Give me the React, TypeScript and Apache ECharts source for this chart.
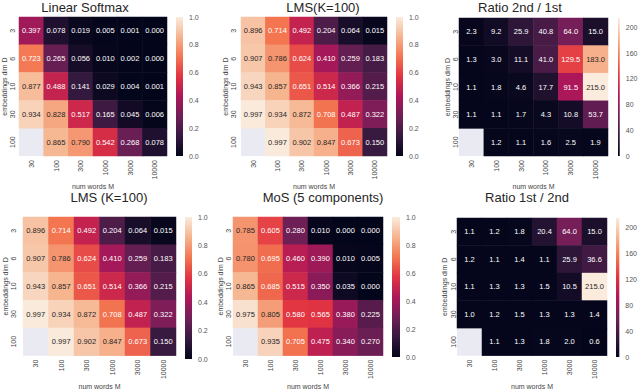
import React, { useEffect, useRef } from "react";
import * as echarts from "echarts";

const M_LABELS = ["30", "100", "300", "1000", "3000", "10000"];
const D_LABELS = ["3", "6", "10", "30", "100"];

const linearSoftmax = [
  [0.397, 0.078, 0.019, 0.005, 0.001, 0.0],
  [0.723, 0.265, 0.056, 0.01, 0.002, 0.0],
  [0.877, 0.488, 0.141, 0.029, 0.004, 0.001],
  [0.934, 0.828, 0.517, 0.165, 0.045, 0.006],
  [null, 0.865, 0.79, 0.542, 0.268, 0.078],
];
const lmsK100 = [
  [0.896, 0.714, 0.492, 0.204, 0.064, 0.015],
  [0.907, 0.786, 0.624, 0.41, 0.259, 0.183],
  [0.943, 0.857, 0.651, 0.514, 0.366, 0.215],
  [0.997, 0.934, 0.872, 0.708, 0.487, 0.322],
  [null, 0.997, 0.902, 0.847, 0.673, 0.15],
];
const ratio2nd1st = [
  [2.3, 9.2, 25.9, 40.8, 64.0, 15.0],
  [1.3, 3.0, 11.1, 41.0, 129.5, 183.0],
  [1.1, 1.8, 4.6, 17.7, 91.5, 215.0],
  [1.1, 1.1, 1.7, 4.3, 10.8, 53.7],
  [null, 1.2, 1.1, 1.6, 2.5, 1.9],
];
const mos5 = [
  [0.785, 0.605, 0.28, 0.01, 0.0, 0.0],
  [0.78, 0.695, 0.46, 0.39, 0.01, 0.005],
  [0.865, 0.685, 0.515, 0.35, 0.035, 0.0],
  [0.975, 0.805, 0.58, 0.565, 0.38, 0.225],
  [null, 0.935, 0.705, 0.475, 0.34, 0.27],
];
const ratio1st2nd = [
  [1.1, 1.2, 1.8, 20.4, 64.0, 15.0],
  [1.2, 1.1, 1.4, 1.1, 25.9, 36.6],
  [1.1, 1.3, 1.3, 1.5, 10.5, 215.0],
  [1.0, 1.2, 1.5, 1.3, 1.3, 1.4],
  [null, 1.1, 1.3, 1.8, 2.0, 0.6],
];

const PROB_TICKS = [0, 0.2, 0.4, 0.6, 0.8, 1.0];
const RATIO_TICKS = [0, 40, 80, 120, 160, 200];

const ROCKET = ["#03051a", "#35193e", "#701f57", "#ad1759", "#e13342", "#f37651", "#f6b48f", "#faebdd"];
const FONT = "Liberation Sans";

type Panel = {
  title: string;
  data: (number | null)[][];
  vmax: number;
  ticks: number[];
  decimals: number;
  tickDec: number;
  grid: [number, number, number, number];
  cb: [number, number, number, number];
  tickX: number;
  labelX: number;
  titlePos: [number, number];
  xnameY: number;
};

const panels: Panel[] = [
  { title: "Linear Softmax", data: linearSoftmax, vmax: 1, ticks: PROB_TICKS, decimals: 3, tickDec: 1,
    grid: [19, 17, 148, 139], cb: [176, 17, 7, 139], tickX: 12, labelX: 8, titlePos: [85, 7], xnameY: 183 },
  { title: "LMS(K=100)", data: lmsK100, vmax: 1, ticks: PROB_TICKS, decimals: 3, tickDec: 1,
    grid: [241, 17, 146, 139], cb: [396, 17, 7, 139], tickX: 233, labelX: 224, titlePos: [323, 7], xnameY: 183 },
  { title: "Ratio 2nd / 1st", data: ratio2nd1st, vmax: 215, ticks: RATIO_TICKS, decimals: 1, tickDec: 0,
    grid: [459, 18, 149, 138], cb: [618, 18, 7, 138], tickX: 455, labelX: 445, titlePos: [520, 7], xnameY: 183 },
  { title: "LMS (K=100)", data: lmsK100, vmax: 1, ticks: PROB_TICKS, decimals: 3, tickDec: 1,
    grid: [23, 217, 153, 142], cb: [185, 217, 7, 142], tickX: 13, labelX: 6, titlePos: [109, 197], xnameY: 387 },
  { title: "MoS (5 components)", data: mos5, vmax: 1, ticks: PROB_TICKS, decimals: 3, tickDec: 1,
    grid: [233, 217, 150, 140], cb: [392, 217, 8, 140], tickX: 228, labelX: 217, titlePos: [323, 197], xnameY: 387 },
  { title: "Ratio 1st / 2nd", data: ratio1st2nd, vmax: 215, ticks: RATIO_TICKS, decimals: 1, tickDec: 0,
    grid: [457, 218, 150, 139], cb: [616, 218, 7, 139], tickX: 453, labelX: 440, titlePos: [527, 197], xnameY: 387 },
];

function hexToRgb(h: string) {
  return [parseInt(h.slice(1, 3), 16), parseInt(h.slice(3, 5), 16), parseInt(h.slice(5, 7), 16)];
}
function rocketAt(t: number) {
  const c = Math.max(0, Math.min(1, t)) * (ROCKET.length - 1);
  const i = Math.min(ROCKET.length - 2, Math.floor(c));
  const f = c - i;
  const a = hexToRgb(ROCKET[i]);
  const b = hexToRgb(ROCKET[i + 1]);
  return a.map((v, k) => v + (b[k] - v) * f);
}
function textColorFor(t: number) {
  const lin = rocketAt(t).map((v) => {
    const s = v / 255;
    return s <= 0.03928 ? s / 12.92 : Math.pow((s + 0.055) / 1.055, 2.4);
  });
  const lum = 0.2126 * lin[0] + 0.7152 * lin[1] + 0.0722 * lin[2];
  return lum > 0.408 ? "#262626" : "#ffffff";
}

function buildOption() {
  const grid: any[] = [];
  const xAxis: any[] = [];
  const yAxis: any[] = [];
  const series: any[] = [];
  const visualMap: any[] = [];
  const graphic: any[] = [];

  panels.forEach((p, i) => {
    const [gl, gt, gw, gh] = p.grid;
    grid.push({ left: gl, top: gt, width: gw, height: gh, show: true, backgroundColor: "#EAEAF2", borderWidth: 0 });
    xAxis.push({
      type: "category", gridIndex: 2 * i, data: M_LABELS,
      axisLine: { show: false }, axisTick: { show: false }, splitLine: { show: false },
      axisLabel: { rotate: 90, fontSize: 7, color: "#444", fontFamily: FONT, margin: 4 },
      name: "num words M", nameLocation: "middle", nameGap: p.xnameY - (gt + gh) - 8,
      nameTextStyle: { fontSize: 7, color: "#444", fontFamily: FONT },
    });
    yAxis.push({
      type: "category", gridIndex: 2 * i, data: D_LABELS, inverse: true,
      axisLine: { show: false }, axisTick: { show: false }, splitLine: { show: false },
      axisLabel: { rotate: 90, fontSize: 7, color: "#444", fontFamily: FONT, margin: Math.max(0, gl - p.tickX - 4) },
      name: "embeddings dim D", nameLocation: "middle", nameRotate: 90, nameGap: Math.max(2, gl - p.labelX - 7.5),
      nameTextStyle: { fontSize: 7, color: "#444", fontFamily: FONT },
    });
    const data: any[] = [];
    p.data.forEach((row, r) => {
      row.forEach((v, c) => {
        if (v === null) return;
        data.push({ value: [c, r, v], label: { color: textColorFor(v / p.vmax) } });
      });
    });
    series.push({
      type: "heatmap", xAxisIndex: 2 * i, yAxisIndex: 2 * i, data,
      label: {
        show: true, fontSize: 7.5, fontFamily: FONT,
        formatter: (pr: any) => Number(pr.value[2]).toFixed(p.decimals),
      },
      itemStyle: { borderWidth: 0 },
      emphasis: { disabled: true },
    });
    visualMap.push({
      type: "continuous", show: false, min: 0, max: p.vmax, dimension: 2,
      seriesIndex: 2 * i, inRange: { color: ROCKET },
    });

    const [cl, ct, cw, ch] = p.cb;
    const step = p.ticks[1] - p.ticks[0];
    grid.push({ left: cl, top: ct, width: cw, height: ch, show: false });
    xAxis.push({ type: "category", gridIndex: 2 * i + 1, data: ["cb"], show: false });
    yAxis.push({
      type: "value", gridIndex: 2 * i + 1, min: 0, max: p.vmax, interval: step, position: "right",
      axisLine: { show: false }, axisTick: { show: false }, splitLine: { show: false },
      axisLabel: {
        fontSize: 7, color: "#555", fontFamily: FONT, margin: 6,
        formatter: (v: number) => (p.ticks.some((t) => Math.abs(t - v) < 1e-6) ? v.toFixed(p.tickDec) : ""),
      },
    });
    series.push({
      type: "bar", xAxisIndex: 2 * i + 1, yAxisIndex: 2 * i + 1, data: [p.vmax], barWidth: "100%",
      itemStyle: {
        color: new echarts.graphic.LinearGradient(0, 1, 0, 0,
          ROCKET.map((c, k) => ({ offset: k / (ROCKET.length - 1), color: c }))),
      },
      silent: true,
    });

    graphic.push({
      type: "text", x: p.titlePos[0], y: p.titlePos[1],
      style: {
        text: p.title, fontSize: 13, fontFamily: FONT, fontWeight: "normal", fill: "#262626",
        textAlign: "center", textVerticalAlign: "middle",
      },
    });
  });

  return { animation: false, backgroundColor: "#ffffff", grid, xAxis, yAxis, series, visualMap, graphic };
}

export default function App() {
  const ref = useRef<HTMLDivElement>(null);
  useEffect(() => {
    if (!ref.current) return;
    const chart = echarts.init(ref.current, null, { renderer: "svg" });
    chart.setOption(buildOption() as any);
    return () => chart.dispose();
  }, []);
  return <div ref={ref} style={{ position: "fixed", left: 0, top: 0, width: 640, height: 391 }} />;
}
